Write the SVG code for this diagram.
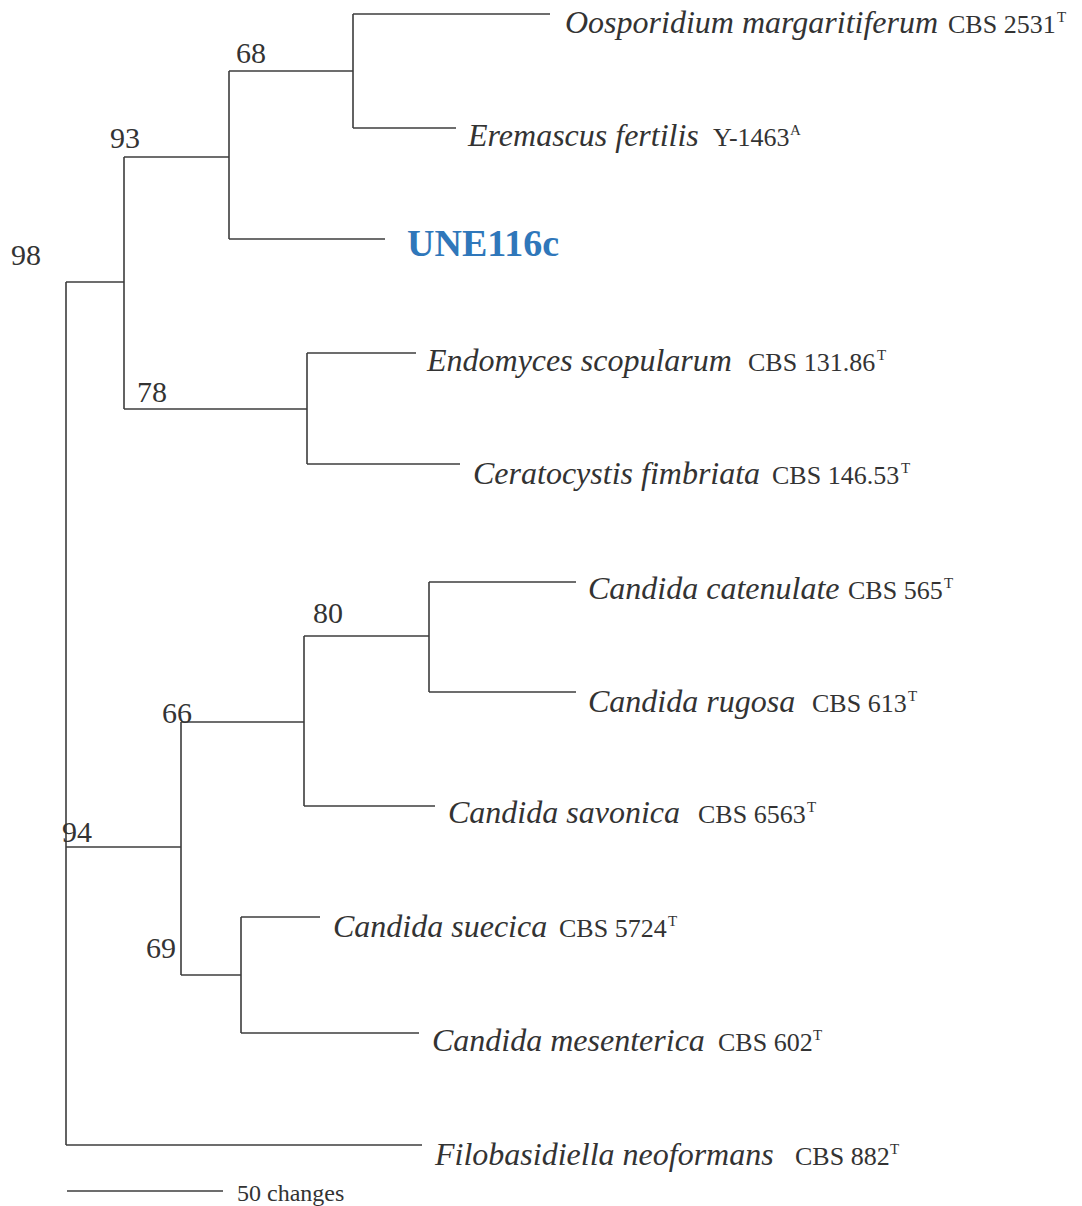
<svg xmlns="http://www.w3.org/2000/svg" width="1082" height="1206" viewBox="0 0 1082 1206">
<style>
.br{fill:none;stroke:#3c3c3c;stroke-width:1.6}
.sp{font-family:"Liberation Serif","Times New Roman",serif;font-style:italic;font-size:32px;fill:#333}
.st{font-family:"Liberation Serif","Times New Roman",serif;font-style:normal;font-size:26px;fill:#333}
.sup{font-family:"Liberation Serif","Times New Roman",serif;font-style:normal;font-size:15px;fill:#333}
.bs{font-family:"Liberation Serif","Times New Roman",serif;font-size:30px;fill:#333}
.une{font-family:"Liberation Serif","Times New Roman",serif;font-weight:bold;font-size:38px;fill:#2f77ba}
.sc{font-family:"Liberation Serif","Times New Roman",serif;font-size:24px;fill:#333}
</style>
<rect width="1082" height="1206" fill="#fff"/>
<g id="connectors">
<path class="br" d="M66 282V1145"/>
<path class="br" d="M66 282H124"/>
<path class="br" d="M124 157V409"/>
<path class="br" d="M124 157H229"/>
<path class="br" d="M229 71V239"/>
<path class="br" d="M229 71H353"/>
<path class="br" d="M353 14V128"/>
<path class="br" d="M353 14H550"/>
<path class="br" d="M353 128H456"/>
<path class="br" d="M229 239H385"/>
<path class="br" d="M124 409H307"/>
<path class="br" d="M307 353V464"/>
<path class="br" d="M307 353H416"/>
<path class="br" d="M307 464H460"/>
<path class="br" d="M66 847H181"/>
<path class="br" d="M181 722V975"/>
<path class="br" d="M181 722H304"/>
<path class="br" d="M304 636V806"/>
<path class="br" d="M304 636H429"/>
<path class="br" d="M429 582V692"/>
<path class="br" d="M429 582H576"/>
<path class="br" d="M429 692H576"/>
<path class="br" d="M304 806H435"/>
<path class="br" d="M181 975H241"/>
<path class="br" d="M241 917V1033"/>
<path class="br" d="M241 917H320"/>
<path class="br" d="M241 1033H419"/>
<path class="br" d="M66 1145H422"/>
</g>
<g id="support-values">
<g id="bs98"><text class="bs" x="11" y="265">98</text></g>
<g id="bs93"><text class="bs" x="110" y="148">93</text></g>
<g id="bs68"><text class="bs" x="236" y="63">68</text></g>
<g id="bs78"><text class="bs" x="137" y="402">78</text></g>
<g id="bs80"><text class="bs" x="313" y="623">80</text></g>
<g id="bs66"><text class="bs" x="162" y="723">66</text></g>
<g id="bs94"><text class="bs" x="62" y="842">94</text></g>
<g id="bs69"><text class="bs" x="146" y="958">69</text></g>
</g>
<g id="taxon-oosporidium"><text class="sp" x="565" y="33">Oosporidium margaritiferum</text><text class="st" x="948" y="33">CBS 2531</text><text class="sup" x="1057" y="22">T</text></g>
<g id="taxon-eremascus"><text class="sp" x="468" y="146">Eremascus fertilis</text><text class="st" x="713" y="146">Y-1463</text><text class="sup" x="790" y="135">A</text></g>
<g id="taxon-une116c"><text class="une" x="407" y="256">UNE116c</text></g>
<g id="taxon-endomyces"><text class="sp" x="427" y="371">Endomyces scopularum</text><text class="st" x="748" y="371">CBS 131.86</text><text class="sup" x="877" y="360">T</text></g>
<g id="taxon-ceratocystis"><text class="sp" x="473" y="484">Ceratocystis fimbriata</text><text class="st" x="772" y="484">CBS 146.53</text><text class="sup" x="901" y="473">T</text></g>
<g id="taxon-catenulate"><text class="sp" x="588" y="599">Candida catenulate</text><text class="st" x="848" y="599">CBS 565</text><text class="sup" x="944" y="588">T</text></g>
<g id="taxon-rugosa"><text class="sp" x="588" y="712">Candida rugosa</text><text class="st" x="812" y="712">CBS 613</text><text class="sup" x="908" y="701">T</text></g>
<g id="taxon-savonica"><text class="sp" x="448" y="823">Candida savonica</text><text class="st" x="698" y="823">CBS 6563</text><text class="sup" x="807" y="812">T</text></g>
<g id="taxon-suecica"><text class="sp" x="333" y="937">Candida suecica</text><text class="st" x="559" y="937">CBS 5724</text><text class="sup" x="668" y="926">T</text></g>
<g id="taxon-mesenterica"><text class="sp" x="432" y="1051">Candida mesenterica</text><text class="st" x="718" y="1051">CBS 602</text><text class="sup" x="813" y="1040">T</text></g>
<g id="taxon-filobasidiella"><text class="sp" x="435" y="1165">Filobasidiella neoformans</text><text class="st" x="795" y="1165">CBS 882</text><text class="sup" x="890" y="1154">T</text></g>
<g id="scale-bar"><path class="br" d="M67 1191H223"/><text class="sc" x="237" y="1201">50 changes</text></g>
</svg>
